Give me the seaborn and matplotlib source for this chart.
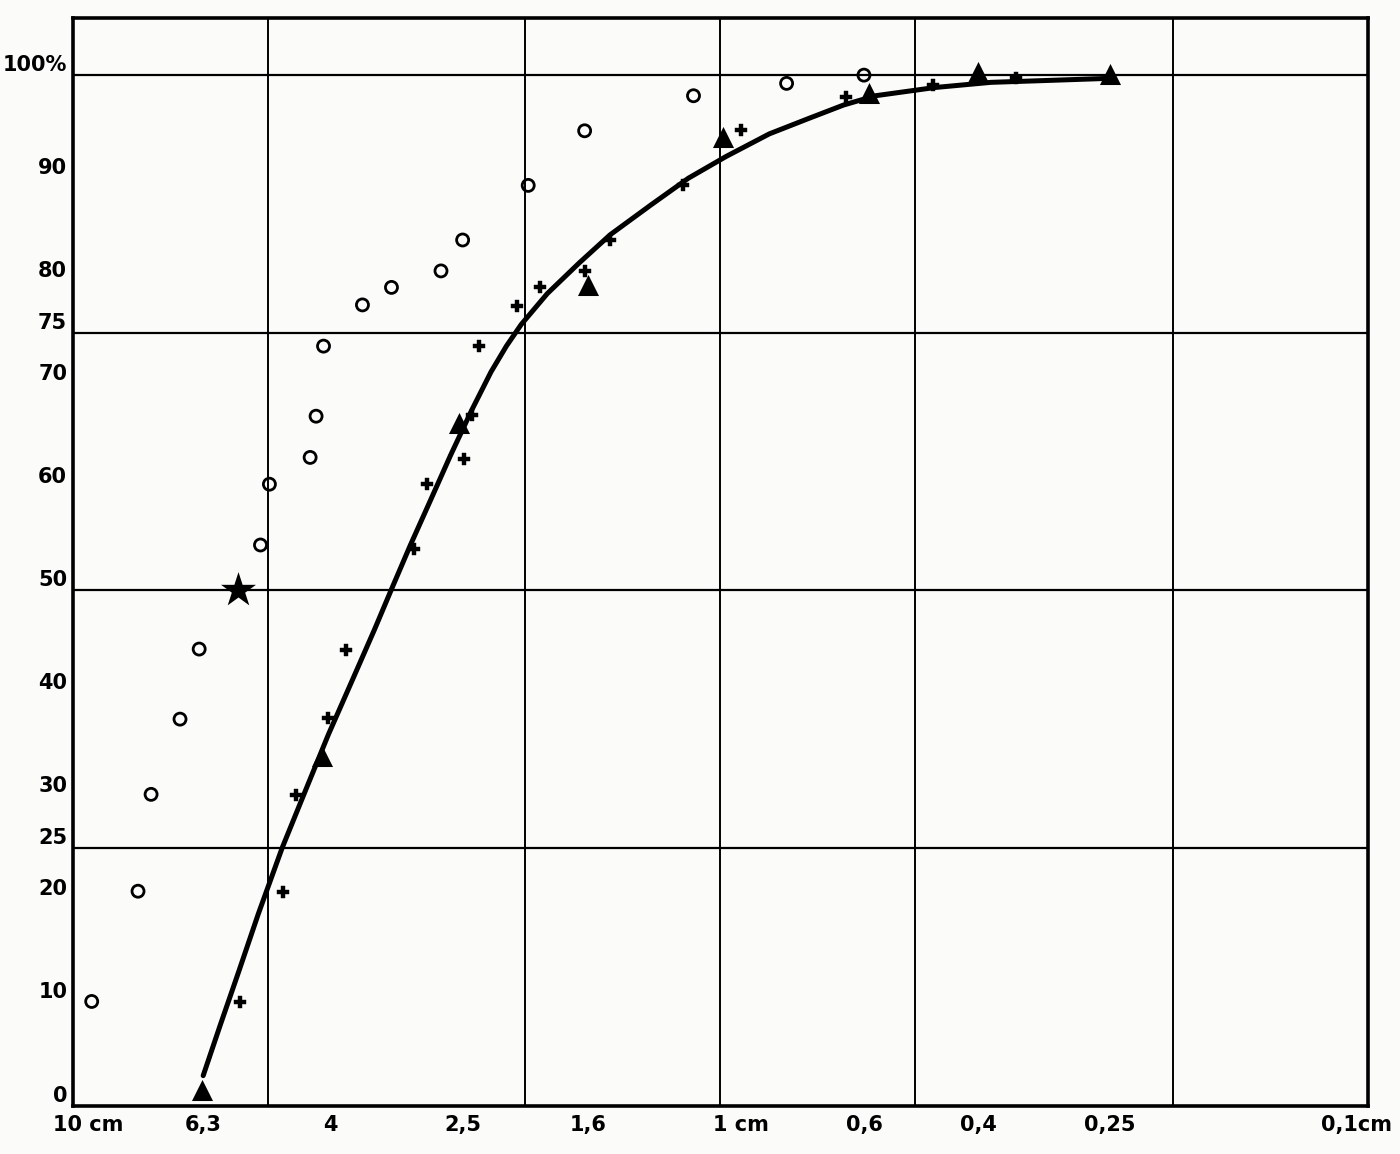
"""
plot.py - grain size distribution curve (cumulative %, log size axis).
"""

import matplotlib
matplotlib.use('Agg')
import matplotlib.pyplot as plt
import matplotlib.transforms as mtransforms
import seaborn as sns

# ─────────────────────────────────────────────
# Data (size in cm, cumulative %)
# ─────────────────────────────────────────────

circle_size = [9.35, 7.93, 7.57, 6.83, 6.38, 5.13, 4.97, 4.30, 4.21, 4.10,
               3.57, 3.22, 2.70, 2.50, 1.98, 1.62, 1.10, 0.79, 0.60]
circle_pct = [10.1, 20.8, 30.2, 37.5, 44.3, 54.4, 60.3, 62.9, 66.9, 73.7,
              77.7, 79.4, 81.0, 84.0, 89.3, 94.6, 98.0, 99.2, 100.0]

cross_size = [5.51, 4.73, 4.52, 4.03, 3.78, 2.97, 2.84, 2.49, 2.42, 2.36,
              2.06, 1.90, 1.62, 1.48, 1.14, 0.93, 0.64, 0.47, 0.35]
cross_pct = [10.0, 20.7, 30.1, 37.6, 44.2, 54.0, 60.3, 62.7, 67.0, 73.7,
             77.6, 79.4, 81.0, 84.0, 89.3, 94.7, 97.9, 99.0, 99.7]

triangle_size = [6.31, 4.12, 2.53, 1.60, 0.99, 0.59, 0.40, 0.25]
triangle_pct = [1.5, 33.9, 66.2, 79.6, 94.0, 98.3, 100.3, 100.1]

star_size = [5.55]
star_pct = [50.0]

# hand-drawn fitted curve, traced point by point
curve_size = [6.29, 5.92, 5.55, 5.17, 4.75, 4.37, 4.03, 3.70, 3.42, 3.22,
              3.01, 2.80, 2.61, 2.42, 2.26, 2.14, 2.03, 1.85, 1.65, 1.48,
              1.28, 1.12, 0.98, 0.84, 0.73, 0.645, 0.576, 0.466, 0.382,
              0.307, 0.248]
curve_pct = [2.9, 7.8, 12.9, 18.6, 25.0, 30.6, 36.0, 41.3, 46.2, 50.1,
             54.4, 58.8, 63.1, 67.5, 71.2, 73.7, 75.8, 78.8, 81.8, 84.5,
             87.4, 90.0, 92.1, 94.3, 95.8, 97.1, 98.0, 98.8, 99.3,
             99.5, 99.7]

x_ticks = [10, 6.3, 4, 2.5, 1.6, 1, 0.6, 0.4, 0.25, 0.1]
x_labels = ['10 cm', '6,3', '4', '2,5', '1,6', '1 cm', '0,6', '0,4', '0,25', '0,1cm']
y_ticks = [0, 10, 20, 25, 30, 40, 50, 60, 70, 75, 80, 90, 100]
y_labels = ['0', '10', '20', '25', '30', '40', '50', '60', '70', '75', '80', '90', '100%']

x_grid = [5, 2, 1, 0.5, 0.2]
y_grid = [25, 50, 75, 100]

# ─────────────────────────────────────────────
# Plot
# ─────────────────────────────────────────────

sns.set_style('white')
plt.rcParams['font.family'] = ['DejaVu Sans']

paper = '#fbfcf9'
fig = plt.figure(figsize=(14, 11.54), dpi=100, facecolor=paper)
ax = fig.add_axes([0.052, 0.042, 0.925, 0.942])
ax.set_facecolor(paper)

for gx in x_grid:
    ax.axvline(gx, color='black', lw=1.4, zorder=1)
for gy in y_grid:
    ax.axhline(gy, color='black', lw=1.6, zorder=1)

sns.lineplot(x=curve_size, y=curve_pct, sort=False, color='black',
             lw=3.6, solid_joinstyle='round', solid_capstyle='round',
             ax=ax, zorder=3)
sns.scatterplot(x=circle_size, y=circle_pct, marker='o', s=75,
                facecolor='none', edgecolor='black', linewidth=2, ax=ax, zorder=4)
sns.scatterplot(x=cross_size, y=cross_pct, marker='P', s=70,
                color='black', edgecolor='black', linewidth=0.3, ax=ax, zorder=4)
sns.scatterplot(x=triangle_size, y=triangle_pct, marker='^', s=230,
                color='black', edgecolor='black', linewidth=0, ax=ax, zorder=4)
sns.scatterplot(x=star_size, y=star_pct, marker='*', s=700,
                color='black', edgecolor='black', linewidth=0, ax=ax, zorder=4)

ax.set_xscale('log')
ax.set_xlim(10, 0.1)
ax.set_ylim(0, 105.5)
ax.minorticks_off()

ax.set_xticks(x_ticks)
ax.set_xticklabels(x_labels, fontsize=15, fontweight='bold')
ax.set_yticks(y_ticks)
ax.set_yticklabels(y_labels, fontsize=15, fontweight='bold')
ax.tick_params(axis='x', direction='in', length=4, width=1.5, pad=7, colors='black')
ax.tick_params(axis='y', length=0, pad=4, colors='black')

# hand-lettered labels sit a little off their values
for lab in ax.get_yticklabels():
    lab.set_va('bottom')
xlabs = ax.get_xticklabels()
shifts = {0: ('left', -14), 5: ('left', -5), 9: ('center', -8)}
for i, (ha, dx) in shifts.items():
    xlabs[i].set_ha(ha)
    xlabs[i].set_transform(xlabs[i].get_transform()
                           + mtransforms.ScaledTranslation(dx / 72, 0, fig.dpi_scale_trans))

ax.set_xlabel('')
ax.set_ylabel('')
for sp in ax.spines.values():
    sp.set_visible(True)
    sp.set_color('black')
    sp.set_linewidth(2.6)

fig.savefig('out.png', dpi=100, facecolor=paper)
plt.close(fig)
